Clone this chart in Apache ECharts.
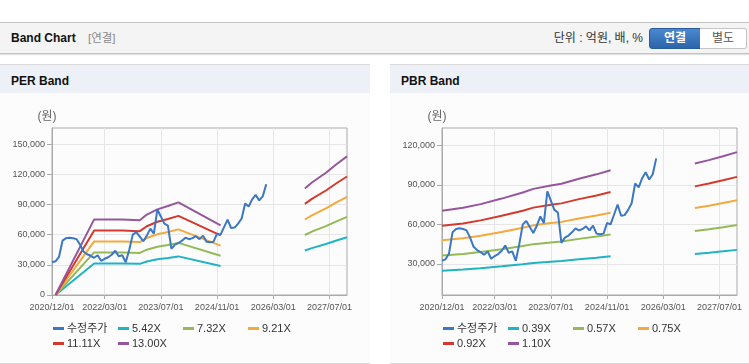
<!DOCTYPE html>
<html><head><meta charset="utf-8">
<script src="https://cdn.jsdelivr.net/npm/echarts@6.0.0/dist/echarts.min.js"></script>
<style>
body{margin:0;width:749px;height:364px;background:#fff;overflow:hidden;position:relative;font-family:'Liberation Sans','Noto Sans CJK KR',sans-serif}
.abs{position:absolute}
#top{left:0;top:22px;width:749px;height:30px;background:#f4f4f4;border-top:1px solid #c2c2c2;border-bottom:1px solid #c2c2c2;box-shadow:0 1px 1px #e2e2e2}
#top .t{left:11px;top:0;line-height:30px;font-weight:bold;font-size:12px;color:#111}
#top .s{left:88px;top:0;line-height:30px;font-size:11.5px;color:#8a8a8a}
#top .u{right:106px;top:0;line-height:30px;font-size:12px;color:#333}
.btn{top:5px;height:19px;line-height:19px;text-align:center;font-size:12px}
#b1{left:649px;width:50px;background:linear-gradient(#4a88cf,#2c64a9);border:1px solid #2a5c9c;border-radius:3px 0 0 3px;color:#fff;font-weight:bold}
#b2{left:700px;width:46px;background:#fff;border:1px solid #c4c4c4;border-left:none;border-radius:0 3px 3px 0;color:#555}
.bar{top:64px;height:28px;background:#edf1f7;border-top:1px solid #dadada}
.bar span{position:absolute;left:11px;top:2px;line-height:28px;font-weight:bold;font-size:12px;color:#111}
.body{top:93px;height:270px;background:#fcfcfc;border-bottom:1px solid #d6d6d6}
</style></head><body>
<div id="top" class="abs">
  <span class="abs t">Band Chart</span>
  <span class="abs s">[연결]</span>
  <span class="abs u">단위 : 억원, 배, %</span>
  <div id="b1" class="abs btn">연결</div>
  <div id="b2" class="abs btn">별도</div>
</div>
<div class="abs bar" style="left:0;width:370px"><span>PER Band</span></div>
<div class="abs bar" style="left:390px;width:359px"><span>PBR Band</span></div>
<div class="abs body" style="left:0;width:370px"></div>
<div class="abs body" style="left:390px;width:359px"></div>
<div id="per" class="abs" style="left:0;top:93px;width:370px;height:270px"></div>
<div id="pbr" class="abs" style="left:390px;top:93px;width:359px;height:270px"></div>
<script>
const months = [
 '2020/12/01',
 '2021/01/01','2021/02/01','2021/03/01','2021/04/01','2021/05/01','2021/06/01','2021/07/01','2021/08/01','2021/09/01','2021/10/01','2021/11/01','2021/12/01',
 '2022/01/01','2022/02/01','2022/03/01','2022/04/01','2022/05/01','2022/06/01','2022/07/01','2022/08/01','2022/09/01','2022/10/01','2022/11/01','2022/12/01',
 '2023/01/01','2023/02/01','2023/03/01','2023/04/01','2023/05/01','2023/06/01','2023/07/01','2023/08/01','2023/09/01','2023/10/01','2023/11/01','2023/12/01',
 '2024/01/01','2024/02/01','2024/03/01','2024/04/01','2024/05/01','2024/06/01','2024/07/01','2024/08/01','2024/09/01','2024/10/01','2024/11/01','2024/12/01',
 '2025/01/01','2025/02/01','2025/03/01','2025/04/01','2025/05/01','2025/06/01','2025/07/01','2025/08/01','2025/09/01','2025/10/01','2025/11/01','2025/12/01',
 '2026/01/01','2026/02/01','2026/03/01','2026/04/01','2026/05/01','2026/06/01','2026/07/01','2026/08/01','2026/09/01','2026/10/01','2026/11/01','2026/12/01',
 '2027/01/01','2027/02/01','2027/03/01','2027/04/01','2027/05/01','2027/06/01','2027/07/01','2027/08/01','2027/09/01','2027/10/01','2027/11/01','2027/12/01'
];
const xTickLabels = ['2020/12/01','2022/03/01','2023/07/01','2024/11/01','2026/03/01','2027/07/01'];

const price = [
 32500,33500,38000,54000,56500,57000,56500,55500,50000,43000,40500,39000,
 37000,39500,34000,36000,37500,40000,44000,38500,39500,32500,45000,60000,
 62500,58000,53500,59000,66000,61000,85000,78000,71000,69000,46000,50000,
 51500,54000,57000,55500,56500,58500,55500,59000,53000,52500,53000,61000,
 60000,67500,75000,66500,67000,71000,76000,91000,88000,95000,99500,94000,
 98000,110000
];

const perBandNames = ['5.42X','7.32X','9.21X','11.11X','13.00X'];
const perBandDates = ['2021/01/01','2021/12/01','2022/08/01','2023/01/01','2023/03/01','2023/06/01','2023/09/01','2023/12/01','2024/12/01','2025/01/01','2026/12/01','2027/02/01','2027/06/01','2027/09/01','2027/12/01'];
const per542  = [0,31330,31330,30950,33330,35500,36860,38370,28890,'-',44170,46610,50680,54200,57450];
const per732  = [0,42310,42310,41800,45020,47950,49780,51830,39020,'-',59660,62950,68440,73200,77590];
const per921  = [0,53230,53230,52590,56640,60330,62630,65210,49090,'-',75060,79210,86110,92100,97630];
const per1111 = [0,64220,64220,63440,68330,72770,75550,78660,59220,'-',90550,95550,103880,111100,117770];
const per1300 = [0,75140,75140,74230,79950,85150,88400,92040,69290,'-',105950,111800,121550,130000,137800];
const perYTicks = [0,30000,60000,90000,120000,150000];

const pbrBandNames = ['0.39X','0.57X','0.75X','0.92X','1.10X'];
const pbrBandDates = ['2020/12/01','2021/06/01','2021/11/01','2022/05/01','2022/11/01','2023/02/01','2023/07/01','2023/10/01','2024/03/01','2024/08/01','2024/12/01','2025/01/01','2026/12/01','2027/04/01','2027/08/01','2027/12/01'];
const pbr039 = [24960,25740,26720,28200,29840,30810,31710,32180,33540,34710,35800,'-',37640,38530,39590,40680];
const pbr057 = [36480,37620,39050,41210,43610,45030,46340,47030,49020,50730,52330,'-',55010,56320,57860,59450];
const pbr075 = [48000,49500,51380,54230,57380,59250,60980,61880,64500,66750,68850,'-',72380,74100,76130,78230];
const pbr092 = [58880,60720,63020,66520,70380,72680,74800,75900,79120,81880,84460,'-',88780,90900,93380,95960];
const pbr110 = [70400,72600,75350,79530,84150,86900,89430,90750,94600,97900,100980,'-',106150,108680,111650,114730];
const pbrYTicks = [30000,60000,90000,120000];

const priceName = '수정주가';
const priceColor = '#3b77c4';
const bandColors = ['#20b3c6','#93ba55','#f4a93c','#d33a2d','#96569d'];
const FONT = "'Liberation Sans','Noto Sans CJK KR',sans-serif";

function zip(dates, vals){ return dates.map((d,i)=>[d, vals[i]]); }
function showTick(i, v){ return xTickLabels.indexOf(v) >= 0; }

function buildOption(bandNames, bandDates, bandVals, yMin, yMax, yTicks){
  const series = bandNames.map((n,k)=>({
    name:n, type:'line', data: zip(bandDates, bandVals[k]), symbol:'none', showSymbol:false,
    connectNulls:false, lineStyle:{width:2,color:bandColors[k]}, itemStyle:{color:bandColors[k]},
    emphasis:{disabled:true}, z:2
  }));
  series.push({name:priceName, type:'line', data:price, symbol:'none', showSymbol:false,
    lineStyle:{width:2,color:priceColor}, itemStyle:{color:priceColor}, emphasis:{disabled:true}, z:3});
  const names = [priceName].concat(bandNames);
  const lefts = [53,118,183,248,53,118];
  const tops = [229,229,229,229,244,244];
  const legends = names.map((n,i)=>({
    data:[n], left:lefts[i], top:tops[i], padding:0, icon:'rect', itemWidth:11, itemHeight:3,
    selectedMode:false, textStyle:{fontSize:11, color:'#333', fontFamily:FONT, lineHeight:13, padding:[0,0,0,-2]}
  }));
  return {
    animation:false,
    backgroundColor:'transparent',
    grid:{left:52, top:35, width:295, height:167, show:true, borderColor:'#aaa', borderWidth:1, containLabel:false},
    legend: legends,
    xAxis:{type:'category', data:months, boundaryGap:false,
      axisLine:{lineStyle:{color:'#aaa'}},
      axisTick:{show:true, interval:showTick, length:4, lineStyle:{color:'#aaa'}},
      axisLabel:{interval:showTick, color:'#555', fontSize:9, margin:8, fontFamily:FONT},
      splitLine:{show:true, interval:showTick, lineStyle:{color:'#e6e6e6'}}
    },
    yAxis:{type:'value', min:yMin, max:yMax,
      name:'(원)', nameLocation:'end', nameGap:5,
      nameTextStyle:{color:'#666', fontSize:12, fontFamily:FONT, padding:[0,10,0,0]},
      axisLine:{show:true, lineStyle:{color:'#aaa'}},
      axisTick:{show:true, length:5, lineStyle:{color:'#aaa'}, customValues:yTicks},
      axisLabel:{customValues:yTicks, color:'#555', fontSize:9, margin:7, fontFamily:FONT,
        formatter:v=>Number(v).toLocaleString('en-US')},
      splitLine:{show:true, lineStyle:{color:'#e6e6e6'}}
    },
    series: series
  };
}

const perChart = echarts.init(document.getElementById('per'), null, {renderer:'canvas'});
perChart.setOption(buildOption(perBandNames, perBandDates, [per542,per732,per921,per1111,per1300], 0, 166000, perYTicks));
const pbrChart = echarts.init(document.getElementById('pbr'), null, {renderer:'canvas'});
pbrChart.setOption(buildOption(pbrBandNames, pbrBandDates, [pbr039,pbr057,pbr075,pbr092,pbr110], 6500, 133000, pbrYTicks));
</script>
</body></html>
